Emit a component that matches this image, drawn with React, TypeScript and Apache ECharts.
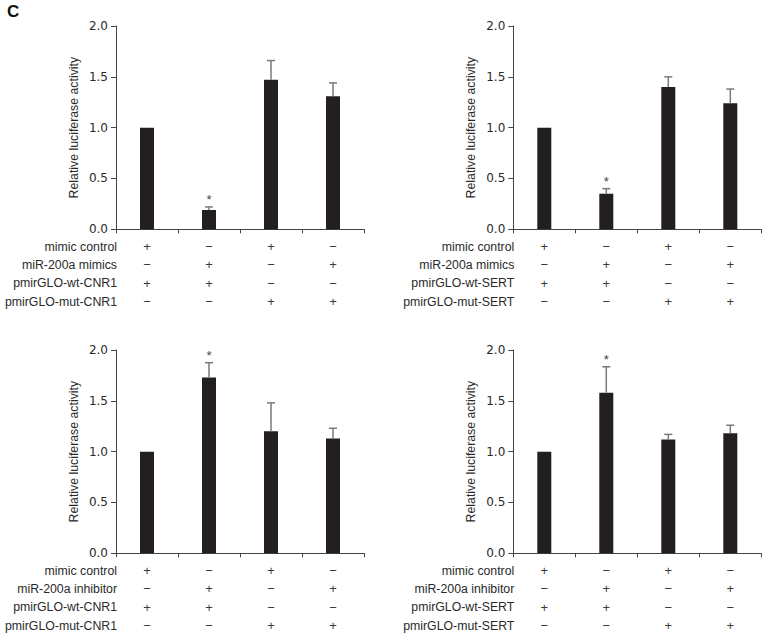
import React, { useEffect, useRef } from "react";
import * as echarts from "echarts";

const categories = ["G1", "G2", "G3", "G4"];

const rowLabelsTL = ["mimic control", "miR-200a mimics", "pmirGLO-wt-CNR1", "pmirGLO-mut-CNR1"];
const rowLabelsTR = ["mimic control", "miR-200a mimics", "pmirGLO-wt-SERT", "pmirGLO-mut-SERT"];
const rowLabelsBL = ["mimic control", "miR-200a inhibitor", "pmirGLO-wt-CNR1", "pmirGLO-mut-CNR1"];
const rowLabelsBR = ["mimic control", "miR-200a inhibitor", "pmirGLO-wt-SERT", "pmirGLO-mut-SERT"];

const signs = [
  ["+", "−", "+", "−"],
  ["−", "+", "−", "+"],
  ["+", "+", "−", "−"],
  ["−", "−", "+", "+"],
];

const valuesTL = [1.0, 0.19, 1.47, 1.31];
const errorsTL = [0, 0.03, 0.19, 0.13];
const sigTL = [0, 1, 0, 0];

const valuesTR = [1.0, 0.35, 1.4, 1.24];
const errorsTR = [0, 0.05, 0.1, 0.14];
const sigTR = [0, 1, 0, 0];

const valuesBL = [1.0, 1.73, 1.2, 1.13];
const errorsBL = [0, 0.145, 0.28, 0.1];
const sigBL = [0, 1, 0, 0];

const valuesBR = [1.0, 1.58, 1.12, 1.18];
const errorsBR = [0, 0.255, 0.05, 0.08];
const sigBR = [0, 1, 0, 0];

const yTicks = [0, 0.5, 1.0, 1.5, 2.0];

const FONT = "'Liberation Sans', Arial, Helvetica, sans-serif";
const TICKFONT = "'DejaVu Sans', 'Liberation Sans', sans-serif";
const AXIS = "#454545";
const TEXT = "#2a2a2a";
const BAR = "#231f20";
const ERR = "#7a7a7a";

const panels = [
  { left: 116, top: 26, rows: rowLabelsTL, values: valuesTL, errors: errorsTL, sig: sigTL },
  { left: 513.3, top: 26, rows: rowLabelsTR, values: valuesTR, errors: errorsTR, sig: sigTR },
  { left: 116, top: 350, rows: rowLabelsBL, values: valuesBL, errors: errorsBL, sig: sigBL },
  { left: 513.3, top: 350, rows: rowLabelsBR, values: valuesBR, errors: errorsBR, sig: sigBR },
];
const GW = 248;
const GH = 203.3;
const ROW0 = 17.4;
const ROWH = 18.3;

export default function App() {
  const ref = useRef<HTMLDivElement>(null);
  useEffect(() => {
    document.body.style.margin = "0";
    if (!ref.current) return;
    const chart = echarts.init(ref.current, null, { renderer: "svg" });

    const grid: any[] = [];
    const xAxis: any[] = [];
    const yAxis: any[] = [];
    const series: any[] = [];
    const graphic: any[] = [
      {
        type: "text",
        left: 7,
        top: 3,
        style: { text: "C", fill: "#111", font: "bold 17px " + FONT },
      },
    ];

    panels.forEach((p, gi) => {
      grid.push({ left: p.left, top: p.top, width: GW, height: GH, containLabel: false });
      xAxis.push({
        type: "category",
        gridIndex: gi,
        data: categories,
        axisLine: { show: true, lineStyle: { color: AXIS, width: 1 } },
        axisTick: { show: true, length: 4, alignWithLabel: false, lineStyle: { color: AXIS } },
        axisLabel: {
          margin: 8,
          fontSize: 13,
          lineHeight: ROWH,
          color: "#3a3a3a",
          fontFamily: FONT,
          formatter: (_v: string, idx: number) => signs.map((r) => r[idx]).join("\n"),
        },
        splitLine: { show: false },
      });
      yAxis.push({
        type: "value",
        gridIndex: gi,
        min: 0,
        max: 2,
        interval: 0.5,
        name: "Relative luciferase activity",
        nameLocation: "middle",
        nameGap: 36,
        nameTextStyle: { fontSize: 12.3, color: TEXT, fontFamily: FONT },
        axisLine: { show: true, lineStyle: { color: AXIS, width: 1 } },
        axisTick: { show: true, length: 5, lineStyle: { color: AXIS } },
        axisLabel: {
          margin: 8,
          fontSize: 12,
          color: TEXT,
          fontFamily: TICKFONT,
          formatter: (v: number) => (yTicks.includes(v) ? v.toFixed(1) : ""),
        },
        splitLine: { show: false },
      });
      series.push({
        type: "bar",
        xAxisIndex: gi,
        yAxisIndex: gi,
        data: p.values,
        barWidth: 14,
        itemStyle: { color: BAR },
        z: 2,
      });
      series.push({
        type: "custom",
        xAxisIndex: gi,
        yAxisIndex: gi,
        z: 3,
        data: p.values.map((v, i) => [i, v, p.errors[i], p.sig[i]]),
        encode: { x: 0, y: 1 },
        renderItem: (params: any, api: any) => {
          const idx = api.value(0);
          const v = api.value(1);
          const e = api.value(2);
          const s = api.value(3);
          const base = api.coord([idx, v]);
          const top = api.coord([idx, v + e]);
          const children: any[] = [];
          if (e > 0) {
            children.push({
              type: "line",
              shape: { x1: base[0], y1: base[1], x2: top[0], y2: top[1] },
              style: { stroke: ERR, lineWidth: 1.5 },
            });
            children.push({
              type: "line",
              shape: { x1: top[0] - 4, y1: top[1], x2: top[0] + 4, y2: top[1] },
              style: { stroke: ERR, lineWidth: 1.5 },
            });
          }
          if (s) {
            children.push({
              type: "text",
              x: top[0],
              y: top[1] - 7,
              style: {
                text: "*",
                fill: "#444",
                font: "13px " + FONT,
                textAlign: "center",
                textVerticalAlign: "middle",
              },
            });
          }
          return { type: "group", children };
        },
      });
      p.rows.forEach((label, ri) => {
        graphic.push({
          type: "text",
          x: p.left + 1,
          y: p.top + GH + ROW0 + ri * ROWH,
          style: {
            text: label,
            fill: TEXT,
            font: "12.3px " + FONT,
            textAlign: "right",
            textVerticalAlign: "middle",
          },
        });
      });
    });

    chart.setOption({
      animation: false,
      backgroundColor: "#ffffff",
      textStyle: { fontFamily: FONT },
      grid,
      xAxis,
      yAxis,
      series,
      graphic,
    });
    return () => chart.dispose();
  }, []);
  return <div ref={ref} style={{ width: 769, height: 639 }} />;
}
